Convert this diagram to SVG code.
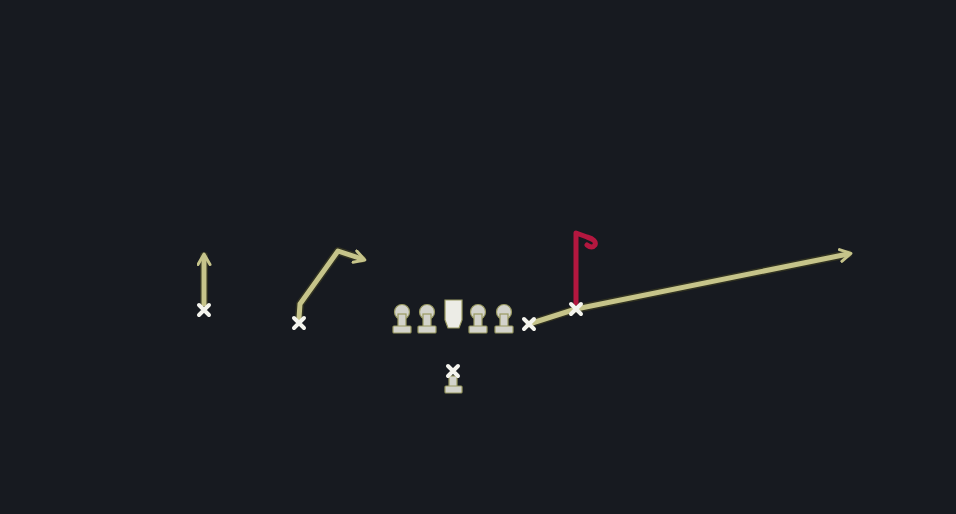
<svg xmlns="http://www.w3.org/2000/svg" width="956" height="514" viewBox="0 0 956 514">
<defs>
<style>
.route{fill:none;stroke:#c6c48a;stroke-width:5;stroke-linecap:round;stroke-linejoin:round}
.glow{fill:none;stroke:#3d3d22;stroke-width:8;stroke-linecap:round;stroke-linejoin:round;opacity:0.7}
.xm{stroke:#f4f4ee;stroke-width:4;stroke-linecap:round}
.lm{fill:#d3d3cb;stroke:#9a9a62;stroke-width:1.2}
.red{fill:none;stroke:#b3173f;stroke-width:5;stroke-linecap:round;stroke-linejoin:round}
</style>
<marker id="ah" viewBox="0 0 10 10" refX="6" refY="5" markerWidth="3" markerHeight="3" orient="auto" markerUnits="strokeWidth">
<path d="M1,1 L8,5 L1,9" fill="none" stroke="#c6c48a" stroke-width="2" stroke-linecap="round" stroke-linejoin="round"/>
</marker>
</defs>
<rect width="956" height="514" fill="#171a20"/>
<g id="connectors">
<path class="glow" d="M204,304 L204,256"/>
<path class="route" d="M204,304 L204,257" marker-end="url(#ah)"/>
<path class="glow" d="M299,318 L300,304 L338,251 L362,259"/>
<path class="route" d="M299,318 L300,304 L338,251 L362,259" marker-end="url(#ah)"/>
<path class="glow" d="M529,324 L576,309 L848,254"/>
<path class="route" d="M529,324 L576,309 L848,254" marker-end="url(#ah)"/>
<path class="red" d="M576,303 L576,233 L587,237 Q597,240 595,245 Q592,249 587,245"/>
</g>
<g id="wr1"><path class="xm" d="M199,305 L209,315 M209,305 L199,315"/></g>
<g id="wr2"><path class="xm" d="M294,318 L304,328 M304,318 L294,328"/></g>
<g id="lt"><circle class="lm" cx="402" cy="312" r="7.5"/><rect class="lm" x="398" y="314" width="8" height="13"/><rect class="lm" x="393" y="326" width="18" height="7" rx="1"/></g>
<g id="lg"><circle class="lm" cx="427" cy="312" r="7.5"/><rect class="lm" x="423" y="314" width="8" height="13"/><rect class="lm" x="418" y="326" width="18" height="7" rx="1"/></g>
<g id="c"><path d="M445,300 L462,300 L462,320 L459,328 L448,328 L445,320 Z" fill="#ecece6" stroke="#9a9a62" stroke-width="1.2"/></g>
<g id="rg"><circle class="lm" cx="478" cy="312" r="7.5"/><rect class="lm" x="474" y="314" width="8" height="13"/><rect class="lm" x="469" y="326" width="18" height="7" rx="1"/></g>
<g id="rt"><circle class="lm" cx="504" cy="312" r="7.5"/><rect class="lm" x="500" y="314" width="8" height="13"/><rect class="lm" x="495" y="326" width="18" height="7" rx="1"/></g>
<g id="te"><path class="xm" d="M524,319 L534,329 M534,319 L524,329"/></g>
<g id="slot"><path class="xm" d="M571,304 L581,314 M581,304 L571,314"/></g>
<g id="qb"><rect class="lm" x="449" y="376" width="8" height="11"/><rect class="lm" x="445" y="386" width="17" height="7" rx="1"/><path class="xm" d="M448,366 L458,376 M458,366 L448,376"/></g>
</svg>
